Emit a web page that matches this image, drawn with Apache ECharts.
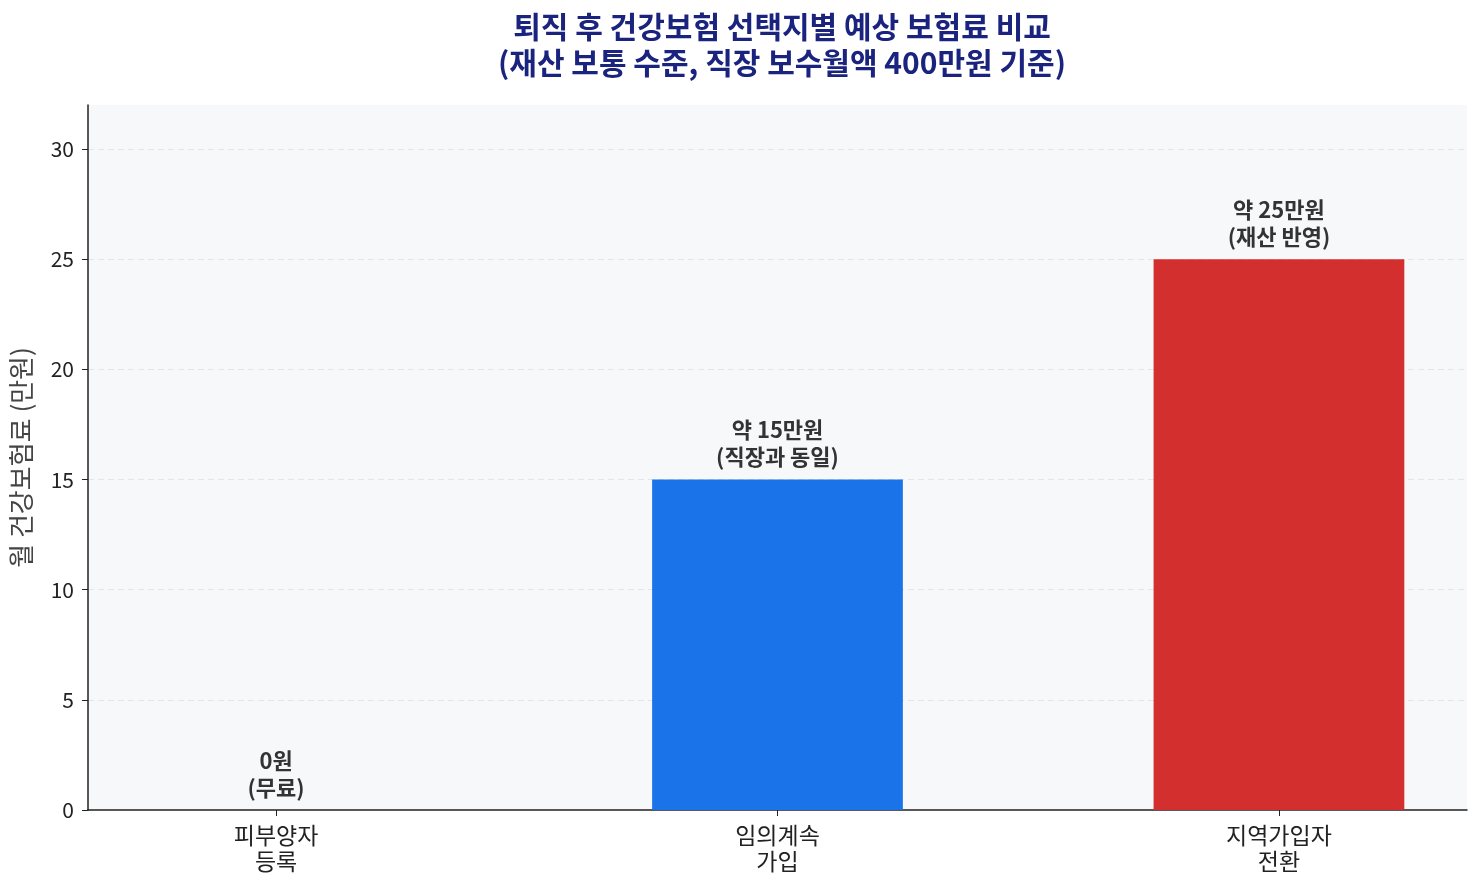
<!DOCTYPE html>
<html><head><meta charset="utf-8">
<script src="https://cdn.jsdelivr.net/npm/echarts@6/dist/echarts.min.js"></script>
<style>html,body{margin:0;padding:0;background:#fff}#c{width:1483px;height:889px}</style>
</head><body><div id="c"></div>
<script>
const categories = ['피부양자\n등록', '임의계속\n가입', '지역가입자\n전환'];
const values = [0, 15, 25];
const barLabels = ['0원\n(무료)', '약 15만원\n(직장과 동일)', '약 25만원\n(재산 반영)'];
const barColors = ['#9e9e9e', '#1a73e8', '#d32f2f'];
const yTicks = [0, 5, 10, 15, 20, 25, 30];
const FONT = '"Noto Sans CJK KR", "Noto Sans", sans-serif';

const chart = echarts.init(document.getElementById('c'));
chart.setOption({
  animation: false,
  title: {
    text: '퇴직 후 건강보험 선택지별 예상 보험료 비교\n(재산 보통 수준, 직장 보수월액 400만원 기준)',
    left: 777, textAlign: 'center', top: 4,
    textStyle: { fontFamily: FONT, fontSize: 30, fontWeight: 'bold', color: '#1a237e', lineHeight: 36 }
  },
  grid: { left: 87, right: 16, top: 105, bottom: 79, show: true, backgroundColor: '#f7f8fa', borderWidth: 0 },
  xAxis: {
    type: 'value', min: -0.375, max: 2.375,
    axisLine: { show: true, onZero: false, lineStyle: { color: '#222', width: 1.5 } },
    axisTick: { show: true, customValues: [0, 1, 2], length: 6, lineStyle: { color: '#222' } },
    axisLabel: { customValues: [0, 1, 2], formatter: v => categories[Math.round(v)], fontFamily: FONT, fontSize: 23, color: '#222', margin: 12, lineHeight: 26 },
    splitLine: { show: false }
  },
  yAxis: {
    type: 'value', min: 0, max: 32,
    name: '월 건강보험료 (만원)', nameLocation: 'middle', nameGap: 54,
    nameTextStyle: { fontFamily: FONT, fontSize: 26, color: '#444' },
    axisLine: { show: true, onZero: false, lineStyle: { color: '#222', width: 1.5 } },
    axisTick: { show: true, customValues: yTicks, length: 6, lineStyle: { color: '#222' } },
    axisLabel: { customValues: yTicks, fontFamily: FONT, fontSize: 21, color: '#222', margin: 14 },
    splitLine: { show: false }
  },
  series: [{
    type: 'bar',
    barWidth: '50%',
    data: values.map((v, i) => ({ value: [i, v], itemStyle: { color: barColors[i] } })),
    label: {
      show: true, position: 'top', distance: 9,
      formatter: p => barLabels[p.dataIndex],
      fontFamily: FONT, fontSize: 22, fontWeight: 'bold', color: '#333', lineHeight: 27, align: 'center'
    },
    markLine: {
      silent: true, symbol: 'none', label: { show: false },
      lineStyle: { type: [6, 4], color: '#e3e5e8', width: 1 },
      data: yTicks.filter(t => t > 0).map(t => ({ yAxis: t })),
      z: 0
    },
    z: 2
  }]
});
</script></body></html>
